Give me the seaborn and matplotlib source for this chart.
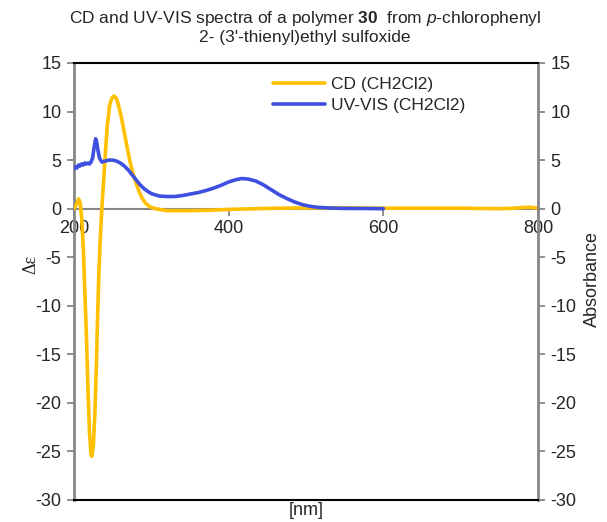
import numpy as np
import pandas as pd
import seaborn as sns
import matplotlib
matplotlib.use("Agg")
import matplotlib.pyplot as plt

# ---- data ----
cd_wl = [200, 203, 206, 208, 210, 212, 214, 216, 218, 220, 222, 223, 225, 227, 229, 230,
         232, 234, 236, 238, 240, 243, 246, 249, 252, 255, 258, 261, 264, 268, 272, 276,
         280, 284, 288, 292, 298, 305, 320, 350, 380, 400, 450, 500, 550, 600, 650, 700,
         750, 770, 780, 790, 800]
cd_val = [0.0, 0.4, 1.0, 0.6, -1.0, -4.0, -8.5, -13.0, -18.5, -23.0, -25.3, -25.5, -24.5,
          -21.0, -16.0, -12.7, -7.0, -3.0, 0.0, 2.5, 5.0, 8.5, 10.6, 11.4, 11.6, 11.3, 10.5,
          9.5, 8.3, 6.6, 5.0, 3.7, 2.7, 1.8, 1.1, 0.6, 0.2, 0.0, -0.2, -0.2, -0.15, -0.08,
          0.03, 0.08, 0.08, 0.05, 0.05, 0.05, 0.0, 0.05, 0.12, 0.15, 0.05]

uv_wl = [200, 202, 204, 206, 208, 210, 212, 214, 216, 218, 220, 222, 224, 226, 228, 229,
         231, 233, 236, 240, 245, 250, 255, 260, 265, 270, 275, 280, 285, 290, 295, 300,
         310, 320, 330, 340, 350, 360, 370, 380, 390, 400, 410, 417, 425, 435, 445, 455,
         465, 475, 485, 495, 505, 515, 530, 550, 575, 600]
uv_val = [4.1, 4.3, 4.2, 4.5, 4.4, 4.6, 4.5, 4.7, 4.6, 4.7, 4.6, 4.8, 5.2, 6.3, 7.2, 7.0,
          6.0, 5.2, 4.8, 4.9, 5.0, 5.0, 4.9, 4.7, 4.4, 4.0, 3.5, 3.0, 2.5, 2.1, 1.8, 1.55,
          1.3, 1.25, 1.25, 1.35, 1.5, 1.65, 1.85, 2.1, 2.4, 2.75, 3.0, 3.1, 3.05, 2.85, 2.45,
          1.95, 1.45, 1.05, 0.7, 0.42, 0.25, 0.14, 0.07, 0.03, 0.02, 0.0]

x_ticks = [200, 400, 600, 800]
y_ticks = [-30, -25, -20, -15, -10, -5, 0, 5, 10, 15]

cd_label = "CD (CH2Cl2)"
uv_label = "UV-VIS (CH2Cl2)"

# ---- style ----
sns.set_style("white")
plt.rcParams["font.family"] = ["Liberation Sans", "DejaVu Sans"]
plt.rcParams["mathtext.fontset"] = "custom"
plt.rcParams["mathtext.rm"] = "Liberation Sans"
plt.rcParams["mathtext.bf"] = "Liberation Sans:bold"
plt.rcParams["mathtext.it"] = "Liberation Sans:italic"

CD_COLOR = "#FFC000"
UV_COLOR = "#3F4FE0"
GRAY = "#878787"

fig = plt.figure(figsize=(6.07, 5.22), dpi=100)
ax = fig.add_axes([74 / 607, 1 - 500 / 522, 464 / 607, 437 / 522])
ax2 = ax.twinx()

cd_df = pd.DataFrame({"wl": cd_wl, "val": cd_val})
uv_df = pd.DataFrame({"wl": uv_wl, "val": uv_val})

sns.lineplot(data=cd_df, x="wl", y="val", ax=ax, color=CD_COLOR, lw=2.6,
             label=cd_label, legend=False, zorder=3)
sns.lineplot(data=uv_df, x="wl", y="val", ax=ax2, color=UV_COLOR, lw=2.6,
             label=uv_label, legend=False, zorder=3)

for a in (ax, ax2):
    a.set_xlim(200, 800)
    a.set_ylim(-30, 15)
    a.set_yticks(y_ticks)
    a.set_yticklabels([str(t) for t in y_ticks])
    a.grid(False)

ax.set_xticks(x_ticks)
ax.set_xticklabels([str(t) for t in x_ticks])

# primary axis: left gray spine, x axis crossing at zero
ax.spines["left"].set_color(GRAY)
ax.spines["left"].set_linewidth(2.0)
ax.spines["bottom"].set_position(("data", 0))
ax.spines["bottom"].set_color(GRAY)
ax.spines["bottom"].set_linewidth(1.5)
ax.spines["top"].set_visible(False)
ax.spines["right"].set_visible(False)
ax.tick_params(axis="y", direction="out", length=5, width=1.3, color=GRAY,
               labelsize=13, pad=4, left=True)
ax.tick_params(axis="x", direction="out", length=5, width=1.3, color=GRAY,
               labelsize=13, pad=3, bottom=True)

# secondary axis: right gray spine, black top & bottom frame
ax2.spines["right"].set_color(GRAY)
ax2.spines["right"].set_linewidth(2.0)
ax2.spines["left"].set_visible(False)
ax2.spines["top"].set_color("black")
ax2.spines["top"].set_linewidth(1.5)
ax2.spines["bottom"].set_color("black")
ax2.spines["bottom"].set_linewidth(1.5)
ax2.tick_params(axis="y", direction="out", length=5, width=1.3, color=GRAY,
                labelsize=13, pad=4, right=True)
ax2.tick_params(axis="x", bottom=False, labelbottom=False)

ax.set_xlabel("[nm]", fontsize=13)
ax.xaxis.set_label_coords(0.5, -0.005)
ax.set_ylabel("Δε", fontsize=13, family=["Liberation Serif", "DejaVu Serif"])
ax.yaxis.set_label_coords(-0.075, 0.54)
ax2.set_ylabel("Absorbance", fontsize=13)
ax2.yaxis.set_label_coords(1.098, 0.505)

fig.suptitle("CD and UV-VIS spectra of a polymer $\\mathbf{30}$  from $\\mathit{p}$-chlorophenyl\n"
             "2- (3'-thienyl)ethyl sulfoxide", fontsize=12.5, x=305 / 607,
             y=1 - 9 / 522, va="top", linespacing=1.15)

h1, l1 = ax.get_legend_handles_labels()
h2, l2 = ax2.get_legend_handles_labels()
ax2.legend(h1 + h2, l1 + l2, loc="upper left", bbox_to_anchor=(0.395, 1.005),
           frameon=False, fontsize=12.5, handlelength=3.0, handletextpad=0.35,
           labelspacing=0.35)

fig.savefig("out.png", dpi=100)
